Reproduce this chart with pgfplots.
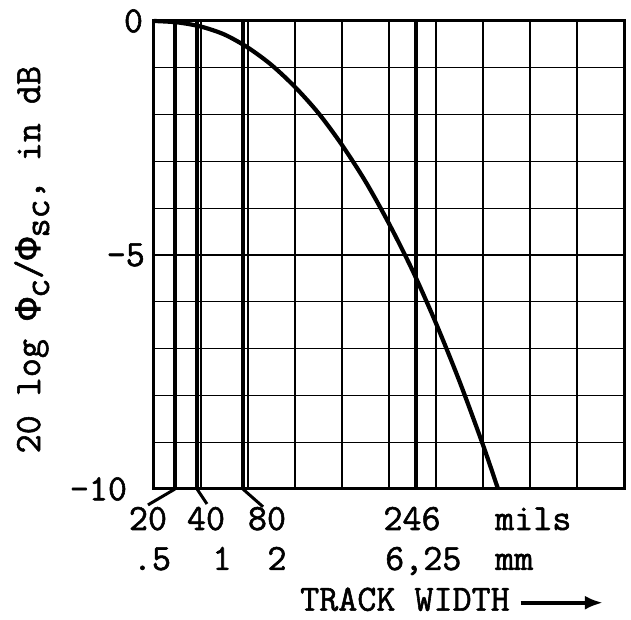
\documentclass[border=0pt]{standalone}
\usepackage{pgfplots}
\pgfplotsset{compat=1.18}
\usepackage{fontspec}
\newfontfamily\labfont{Latin Modern Mono}[FakeBold=1.5]
\newfontfamily\phifont{Liberation Mono}[FakeBold=1.5]
\usetikzlibrary{arrows.meta}
\tikzset{lab/.style={font=\fontsize{37}{44}\selectfont\labfont, inner sep=0pt}}

\begin{document}
\begin{tikzpicture}
\useasboundingbox (-154pt,-131pt) rectangle (477pt,489pt);
\begin{axis}[
  scale only axis,
  width=470pt, height=468pt,
  xmin=0, xmax=10, ymin=-10, ymax=0,
  xtick={0,...,10}, ytick={-10,...,0},
  xticklabels={}, yticklabels={},
  major tick length=0pt,
  grid=major,
  grid style={black, line width=1.3pt},
  axis line style={line width=3pt},
  clip=false,
]
% heavier middle grid lines
\addplot[black, line width=2.6pt] coordinates {(5,0) (5,-10)};
\addplot[black, line width=2.6pt] coordinates {(0,-5) (10,-5)};
% track width markers: 20, 40, 80, 246 mils
\addplot[black, line width=3.6pt] coordinates {(0.447,0) (0.447,-10)};
\addplot[black, line width=3.6pt] coordinates {(0.915,0) (0.915,-10)};
\addplot[black, line width=3.6pt] coordinates {(1.89,0) (1.89,-10)};
\addplot[black, line width=3.6pt] coordinates {(5.57,0) (5.57,-10)};
% attenuation curve
\addplot[black, line width=4.2pt, smooth] coordinates {
  (0,0) (0.5,-0.03) (1,-0.12) (1.5,-0.29) (2,-0.57) (2.5,-0.94)
  (3,-1.41) (3.5,-1.97) (4,-2.65) (4.5,-3.43) (5,-4.33) (5.5,-5.33)
  (6,-6.46) (6.5,-7.70) (7,-9.06) (7.32,-10.0)};

% y tick labels
\node[lab, anchor=east] at (axis cs:-0.23,0) {0};
\node[lab, anchor=east] at (axis cs:-0.19,-5) {-5};
\node[lab, anchor=east] at (axis cs:-0.57,-10) {-10};
% y label
\node[lab, rotate=90] at (axis cs:-2.6,-5.1)
  {20 log {\phifont Φ}\raisebox{-9pt}{c}/{\phifont Φ}\raisebox{-9pt}{sc}, in dB};

% connectors from markers to labels
\draw[line width=3pt] (axis cs:0.447,-10) -- (axis cs:-0.128,-10.34);
\draw[line width=3pt] (axis cs:0.915,-10) -- (axis cs:1.128,-10.32);
\draw[line width=3pt] (axis cs:1.89,-10) -- (axis cs:2.32,-10.38);

% x labels
\node[lab, anchor=base] at (axis cs:-0.128,-10.876) {20};
\node[lab, anchor=base] at (axis cs:1.106,-10.876) {40};
\node[lab, anchor=base] at (axis cs:2.404,-10.876) {80};
\node[lab, anchor=base] at (axis cs:5.489,-10.876) {246};
\node[lab, anchor=base west] at (axis cs:7.255,-10.876) {mils};
\node[lab, anchor=base] at (axis cs:-0.043,-11.73) {.5};
\node[lab, anchor=base] at (axis cs:1.447,-11.73) {1};
\node[lab, anchor=base] at (axis cs:2.617,-11.73) {2};
\node[lab, anchor=base west] at (axis cs:4.915,-11.73) {6,25};
\node[lab, anchor=base west] at (axis cs:7.255,-11.73) {mm};
\node[lab, anchor=base west] at (axis cs:3.106,-12.6) {TRACK WIDTH};
\draw[line width=3.6pt, -{Latex[length=18pt,width=14pt]}] (axis cs:7.80,-12.43) -- (axis cs:9.55,-12.43);
\end{axis}
\end{tikzpicture}
\end{document}
